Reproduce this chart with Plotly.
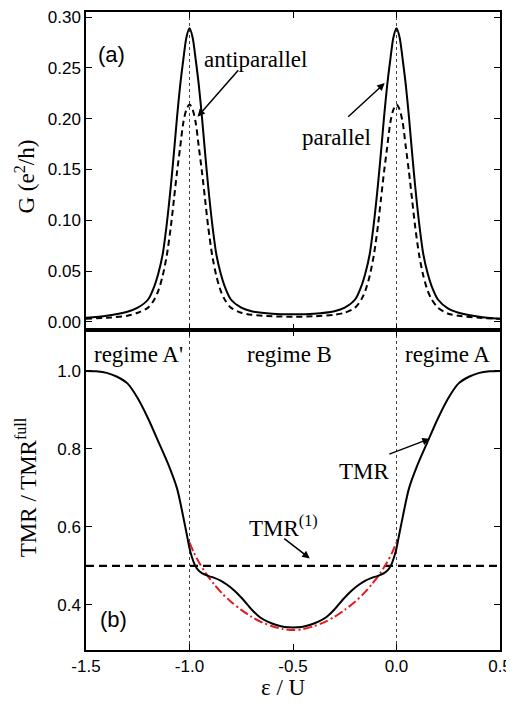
import plotly.graph_objects as go

# ---------------- data ----------------
eps_G = [-1.5, -1.4, -1.3, -1.25, -1.2, -1.17, -1.15, -1.13, -1.11, -1.09, -1.075, -1.06,
         -1.045, -1.03, -1.015, -1.0, -0.985, -0.97, -0.955, -0.94, -0.925, -0.91, -0.89,
         -0.87, -0.85, -0.83, -0.8, -0.75, -0.7, -0.6, -0.5, -0.4, -0.3, -0.25, -0.2, -0.17,
         -0.15, -0.13, -0.11, -0.09, -0.075, -0.06, -0.045, -0.03, -0.015, 0.0, 0.015, 0.03,
         0.045, 0.06, 0.075, 0.09, 0.11, 0.13, 0.15, 0.17, 0.2, 0.25, 0.3, 0.4, 0.5]
G_parallel = [0.004, 0.006, 0.010, 0.014, 0.022, 0.035, 0.048, 0.066, 0.096, 0.134, 0.167, 0.202,
              0.233, 0.258, 0.280, 0.289, 0.280, 0.258, 0.233, 0.202, 0.167, 0.134, 0.096,
              0.066, 0.048, 0.035, 0.022, 0.014, 0.0105, 0.008, 0.0075, 0.008, 0.0105, 0.014, 0.022, 0.035,
              0.048, 0.066, 0.096, 0.134, 0.167, 0.202, 0.233, 0.258, 0.280, 0.289, 0.280, 0.258,
              0.233, 0.202, 0.167, 0.134, 0.096, 0.066, 0.048, 0.035, 0.022, 0.013, 0.009, 0.005, 0.003]
G_antiparallel = [0.003, 0.004, 0.006, 0.009, 0.014, 0.022, 0.031, 0.045, 0.065, 0.094, 0.121, 0.148,
                  0.172, 0.196, 0.209, 0.214, 0.209, 0.196, 0.172, 0.148, 0.121, 0.094, 0.065,
                  0.045, 0.031, 0.022, 0.014, 0.009, 0.007, 0.0055, 0.005, 0.0055, 0.007, 0.009, 0.014, 0.022,
                  0.031, 0.045, 0.065, 0.094, 0.121, 0.148, 0.172, 0.196, 0.209, 0.214, 0.209, 0.196,
                  0.172, 0.148, 0.121, 0.094, 0.065, 0.045, 0.031, 0.022, 0.014, 0.008, 0.006, 0.004, 0.003]

eps_T = [-1.5, -1.45, -1.4, -1.35, -1.3, -1.25, -1.2, -1.15, -1.1, -1.06, -1.03, -1.01, -1.0, -0.99,
         -0.975, -0.96, -0.94, -0.91, -0.88, -0.85, -0.82, -0.78, -0.74, -0.7, -0.66, -0.62, -0.58,
         -0.54, -0.5, -0.46, -0.42, -0.38, -0.34, -0.3, -0.26, -0.22, -0.18, -0.15, -0.12, -0.09,
         -0.06, -0.04, -0.025, -0.01, 0.0, 0.01, 0.03, 0.06, 0.1, 0.15, 0.2, 0.25, 0.3, 0.35, 0.4,
         0.45, 0.5]
TMR = [1.000, 0.999, 0.995, 0.985, 0.968, 0.930, 0.878, 0.818, 0.757, 0.698, 0.625, 0.572, 0.545, 0.525,
       0.503, 0.490, 0.481, 0.474, 0.469, 0.462, 0.452, 0.435, 0.413, 0.388, 0.368, 0.356, 0.348,
       0.343, 0.342, 0.343, 0.348, 0.356, 0.368, 0.388, 0.413, 0.435, 0.452, 0.462, 0.469, 0.474,
       0.481, 0.490, 0.503, 0.525, 0.545, 0.572, 0.625, 0.698, 0.757, 0.818, 0.878, 0.930, 0.968, 0.985, 0.995,
       0.999, 1.000]

eps_R = [-1.0, -0.98, -0.95, -0.92, -0.88, -0.84, -0.8, -0.75, -0.7, -0.65, -0.6, -0.55, -0.5,
         -0.45, -0.4, -0.35, -0.3, -0.25, -0.2, -0.16, -0.12, -0.08, -0.05, -0.02, 0.0]
TMR_1 = [0.560, 0.535, 0.505, 0.480, 0.452, 0.428, 0.408, 0.387, 0.369, 0.355, 0.345, 0.338, 0.335,
         0.338, 0.345, 0.355, 0.369, 0.387, 0.408, 0.428, 0.452, 0.480, 0.505, 0.535, 0.560]

eps_ref = [-1.5, 0.5]
TMR_ref = [0.5, 0.5]

x_ticks = [-1.5, -1.0, -0.5, 0.0, 0.5]
x_ticklabels = ["-1.5", "-1.0", "-0.5", "0.0", "0.5"]
G_ticks = [0.0, 0.05, 0.10, 0.15, 0.20, 0.25, 0.30]
G_ticklabels = ["0.00", "0.05", "0.10", "0.15", "0.20", "0.25", "0.30"]
T_ticks = [0.4, 0.6, 0.8, 1.0]
T_ticklabels = ["0.4", "0.6", "0.8", "1.0"]
regime_lines = [-1.0, 0.0]

# ---------------- figure ----------------
SANS = "Liberation Sans, Arial, sans-serif"
SERIF = "Liberation Serif, Times New Roman, serif"

fig = go.Figure()
fig.add_trace(go.Scatter(x=eps_G, y=G_parallel, mode="lines",
                         line=dict(color="black", width=2, shape="spline", smoothing=0.8),
                         xaxis="x", yaxis="y", showlegend=False))
fig.add_trace(go.Scatter(x=eps_G, y=G_antiparallel, mode="lines",
                         line=dict(color="black", width=2, dash="6px,4px", shape="spline", smoothing=0.8),
                         xaxis="x", yaxis="y", showlegend=False))
fig.add_trace(go.Scatter(x=eps_ref, y=TMR_ref, mode="lines", line=dict(color="black", width=2.2, dash="8px,5px"),
                         xaxis="x2", yaxis="y2", showlegend=False))
fig.add_trace(go.Scatter(x=eps_R, y=TMR_1, mode="lines",
                         line=dict(color="#e31a1c", width=2, dash="9px,3px,2px,3px", shape="spline", smoothing=0.8),
                         xaxis="x2", yaxis="y2", showlegend=False))
fig.add_trace(go.Scatter(x=eps_T, y=TMR, mode="lines",
                         line=dict(color="black", width=2, shape="spline", smoothing=0.8),
                         xaxis="x2", yaxis="y2", showlegend=False))

axis_common = dict(showline=True, linecolor="black", linewidth=1.5, mirror="ticks", ticks="inside",
                   ticklen=6, tickwidth=1.3, tickcolor="black", showgrid=False, zeroline=False,
                   automargin=False, ticklabeloverflow="allow",
                   tickfont=dict(family=SANS, size=17, color="black"))

# the page body adds an 8px offset at the top-left, so the figure is 8px smaller than the window
fig.update_layout(
    template="none",
    width=506, height=698,
    margin=dict(l=78, r=14, t=4, b=56, autoexpand=False),
    paper_bgcolor="white", plot_bgcolor="white",
    xaxis=dict(domain=[0, 1], anchor="y", range=[-1.5, 0.5], tickvals=x_ticks, showticklabels=False, **axis_common),
    yaxis=dict(domain=[0.5016, 1], anchor="x", range=[-0.008, 0.305], tickvals=G_ticks, ticktext=G_ticklabels,
               **axis_common),
    xaxis2=dict(domain=[0, 1], anchor="y2", range=[-1.5, 0.5], tickvals=x_ticks, ticktext=x_ticklabels,
                **axis_common),
    yaxis2=dict(domain=[0, 0.5016], anchor="x2", range=[0.284, 1.105], tickvals=T_ticks, ticktext=T_ticklabels,
                **axis_common),
)

for xv in regime_lines:
    fig.add_shape(type="line", xref="x", yref="paper", x0=xv, x1=xv, y0=0, y1=1,
                  line=dict(color="#444", width=1, dash="dot"), layer="below")

serif = dict(family=SERIF, size=23, color="black")
sans_big = dict(family=SANS, size=22, color="black")

ann = [
    dict(text="(a)", x=-1.377, y=0.263, xref="x", yref="y", showarrow=False, font=sans_big),
    dict(text="(b)", x=-1.368, y=0.361, xref="x2", yref="y2", showarrow=False, font=sans_big),
    dict(text="antiparallel", x=-0.681, y=0.258, xref="x", yref="y", showarrow=False, font=serif),
    dict(text="", x=-0.961, y=0.202, xref="x", yref="y", ax=42, ay=-48, showarrow=True,
         arrowhead=2, arrowsize=1, arrowwidth=1.5, arrowcolor="black"),
    dict(text="parallel", x=-0.289, y=0.181, xref="x", yref="y", showarrow=False, font=serif),
    dict(text="", x=-0.057, y=0.235, xref="x", yref="y", ax=-38, ay=35, showarrow=True,
         arrowhead=2, arrowsize=1, arrowwidth=1.5, arrowcolor="black"),
    dict(text="regime A'", x=-1.247, y=1.043, xref="x2", yref="y2", showarrow=False, font=serif),
    dict(text="regime B", x=-0.515, y=1.043, xref="x2", yref="y2", showarrow=False, font=serif),
    dict(text="regime A", x=0.245, y=1.043, xref="x2", yref="y2", showarrow=False, font=serif),
    dict(text="TMR", x=-0.153, y=0.743, xref="x2", yref="y2", showarrow=False, font=serif),
    dict(text="", x=0.161, y=0.826, xref="x2", yref="y2", ax=-42, ay=16, showarrow=True,
         arrowhead=2, arrowsize=1, arrowwidth=1.5, arrowcolor="black"),
    dict(text="TMR<sup>(1)</sup>", x=-0.545, y=0.601, xref="x2", yref="y2", showarrow=False, font=serif),
    dict(text="", x=-0.419, y=0.519, xref="x2", yref="y2", ax=-27, ay=-21, showarrow=True,
         arrowhead=2, arrowsize=1, arrowwidth=1.5, arrowcolor="black"),
    dict(text="G (e<sup>2</sup>/h)", x=-0.146, y=0.7414, xref="paper", yref="paper", textangle=-90,
         showarrow=False, font=serif, xanchor="center", yanchor="middle"),
    dict(text="TMR / TMR<sup>full</sup>", x=-0.142, y=0.2555, xref="paper", yref="paper", textangle=-90,
         showarrow=False, font=serif, xanchor="center", yanchor="middle"),
    dict(text="ε / U", x=0.478, y=-0.0595, xref="paper", yref="paper", showarrow=False, font=serif,
         xanchor="center", yanchor="middle"),
]
fig.update_layout(annotations=ann)

fig.write_html("out.html")
